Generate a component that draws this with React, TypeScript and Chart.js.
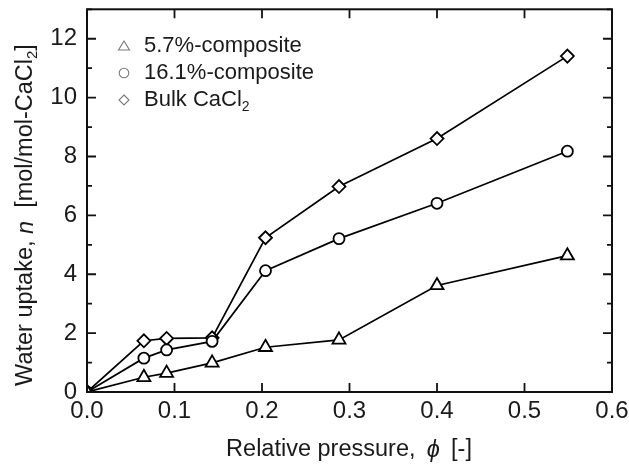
import React, { useEffect, useRef } from "react";
import { Chart, registerables } from "chart.js";

Chart.register(...registerables);

// ---- data ----
const pressure = [0, 0.065, 0.091, 0.143, 0.204, 0.288, 0.4, 0.549];
const composite57 = [0, 0.5, 0.64, 0.99, 1.52, 1.77, 3.62, 4.63];
const composite161 = [0, 1.15, 1.43, 1.72, 4.12, 5.21, 6.41, 8.18];
const bulkCaCl2 = [0, 1.74, 1.82, 1.84, 5.24, 6.98, 8.61, 11.41];

const xMin = 0;
const xMax = 0.6;
const xStep = 0.1;
const yMin = 0;
const yMax = 13;
const yStep = 1;

const legendLabels = ["5.7%-composite", "16.1%-composite", "Bulk CaCl"];
const legendSubs = ["", "", "2"];
const legendStyles = ["triangle", "circle", "diamond"];

const FONT = "'Liberation Sans', Arial, sans-serif";
const TEXT = "#1a1a1a";

type Part = { t: string; italic?: boolean; sub?: boolean };

function drawParts(ctx: CanvasRenderingContext2D, parts: Part[], size: number, cx: number, cy: number) {
  const fontOf = (p: Part) =>
    `${p.italic ? "italic " : ""}${p.sub ? Math.round(size * 0.62) : size}px ${FONT}`;
  let total = 0;
  for (const p of parts) {
    ctx.font = fontOf(p);
    total += ctx.measureText(p.t).width;
  }
  let x = cx - total / 2;
  ctx.textBaseline = "middle";
  ctx.textAlign = "left";
  for (const p of parts) {
    ctx.font = fontOf(p);
    ctx.fillText(p.t, x, cy + (p.sub ? size * 0.3 : 0));
    x += ctx.measureText(p.t).width;
  }
}

const framePlugin = {
  id: "frameAndLabels",
  afterDraw(chart: any) {
    const { ctx, chartArea } = chart;
    const { left, right, top, bottom } = chartArea;
    const xs = chart.scales.x;
    const ys = chart.scales.y;
    ctx.save();
    ctx.strokeStyle = "#111";
    ctx.lineWidth = 2;
    ctx.strokeRect(left, top, right - left, bottom - top);

    ctx.lineWidth = 1.8;
    ctx.beginPath();
    for (let v = xMin; v <= xMax + 1e-9; v += xStep) {
      const px = xs.getPixelForValue(v);
      ctx.moveTo(px, bottom);
      ctx.lineTo(px, bottom - 9);
      ctx.moveTo(px, top);
      ctx.lineTo(px, top + 9);
    }
    for (let v = yMin; v <= yMax + 1e-9; v += yStep) {
      const py = ys.getPixelForValue(v);
      const len = Math.round(v) % 2 === 0 ? 9 : 5;
      ctx.moveTo(left, py);
      ctx.lineTo(left + len, py);
      ctx.moveTo(right, py);
      ctx.lineTo(right - len, py);
    }
    ctx.stroke();

    // legend
    ctx.fillStyle = TEXT;
    const rowY = [46, 73, 100];
    const mx = 124;
    const tx = 144;
    for (let i = 0; i < legendLabels.length; i++) {
      const y = rowY[i];
      ctx.strokeStyle = "#7a7a7a";
      ctx.lineWidth = 1.1;
      ctx.beginPath();
      if (legendStyles[i] === "triangle") {
        ctx.moveTo(mx, y - 5);
        ctx.lineTo(mx + 5.5, y + 4);
        ctx.lineTo(mx - 5.5, y + 4);
        ctx.closePath();
      } else if (legendStyles[i] === "circle") {
        ctx.arc(mx, y, 4.8, 0, Math.PI * 2);
      } else {
        ctx.moveTo(mx, y - 5);
        ctx.lineTo(mx + 5, y);
        ctx.lineTo(mx, y + 5);
        ctx.lineTo(mx - 5, y);
        ctx.closePath();
      }
      ctx.stroke();
      ctx.textBaseline = "middle";
      ctx.textAlign = "left";
      ctx.font = `22px ${FONT}`;
      ctx.fillText(legendLabels[i], tx, y);
      if (legendSubs[i]) {
        const w = ctx.measureText(legendLabels[i]).width;
        ctx.font = `14px ${FONT}`;
        ctx.fillText(legendSubs[i], tx + w, y + 7);
      }
    }

    // x title
    ctx.fillStyle = TEXT;
    drawParts(
      ctx,
      [{ t: "Relative pressure,\u2009 " }, { t: "\u03d5", italic: true }, { t: "\u2009 [-]" }],
      23.5,
      349,
      450
    );

    // y title
    ctx.save();
    ctx.translate(26, 215);
    ctx.rotate(-Math.PI / 2);
    drawParts(
      ctx,
      [
        { t: "Water uptake, " },
        { t: "n", italic: true },
        { t: "  [mol/mol-CaCl" },
        { t: "2", sub: true },
        { t: "]" },
      ],
      23.5,
      0,
      0
    );
    ctx.restore();
    ctx.restore();
  },
};

function series(ys: number[]) {
  return pressure.map((x, i) => ({ x, y: ys[i] }));
}

export default function App() {
  const ref = useRef<HTMLCanvasElement | null>(null);
  useEffect(() => {
    if (!ref.current) return;
    const common = {
      borderColor: "#000",
      borderWidth: 1.7,
      pointBackgroundColor: "#fff",
      pointBorderColor: "#000",
      pointBorderWidth: 1.8,
      fill: false,
      tension: 0,
    };
    const chart = new Chart(ref.current, {
      type: "line",
      data: {
        datasets: [
          { ...common, label: legendLabels[0], data: series(composite57), pointStyle: "triangle", pointRadius: 7.5 },
          { ...common, label: legendLabels[1], data: series(composite161), pointStyle: "circle", pointRadius: 5.5 },
          { ...common, label: legendLabels[2] + legendSubs[2], data: series(bulkCaCl2), pointStyle: "rectRot", pointRadius: 6.5 },
        ],
      },
      options: {
        responsive: false,
        animation: false,
        devicePixelRatio: 1,
        layout: { padding: { top: 6, right: 17, left: 0, bottom: 0 } },
        plugins: { legend: { display: false }, tooltip: { enabled: false } },
        scales: {
          x: {
            type: "linear",
            min: xMin,
            max: xMax,
            grid: { display: false, drawTicks: false },
            border: { display: false },
            ticks: {
              stepSize: xStep,
              autoSkip: false,
              maxRotation: 0,
              padding: 5,
              color: TEXT,
              font: { family: FONT, size: 24 },
              callback: (v: any) => Number(v).toFixed(1),
            },
            afterFit: (s: any) => {
              s.height = 81;
              s.paddingLeft = 0;
              s.paddingRight = 0;
              s.paddingTop = 0;
              s.paddingBottom = 0;
            },
          },
          y: {
            type: "linear",
            min: yMin,
            max: yMax,
            grid: { display: false, drawTicks: false },
            border: { display: false },
            ticks: {
              stepSize: yStep,
              autoSkip: false,
              padding: 10,
              color: TEXT,
              font: { family: FONT, size: 24 },
              callback: (v: any) => (Math.round(v) % 2 === 0 ? String(Math.round(v)) : ""),
            },
            afterFit: (s: any) => {
              s.width = 87;
              s.paddingLeft = 0;
              s.paddingRight = 0;
              s.paddingTop = 0;
              s.paddingBottom = 0;
            },
          },
        },
      },
      plugins: [framePlugin],
    } as any);
    return () => chart.destroy();
  }, []);
  return (
    <div style={{ position: "fixed", left: 0, top: 0, width: 629, height: 473, background: "#fff" }}>
      <canvas ref={ref} width={629} height={473} style={{ width: 629, height: 473, display: "block" }} />
    </div>
  );
}
